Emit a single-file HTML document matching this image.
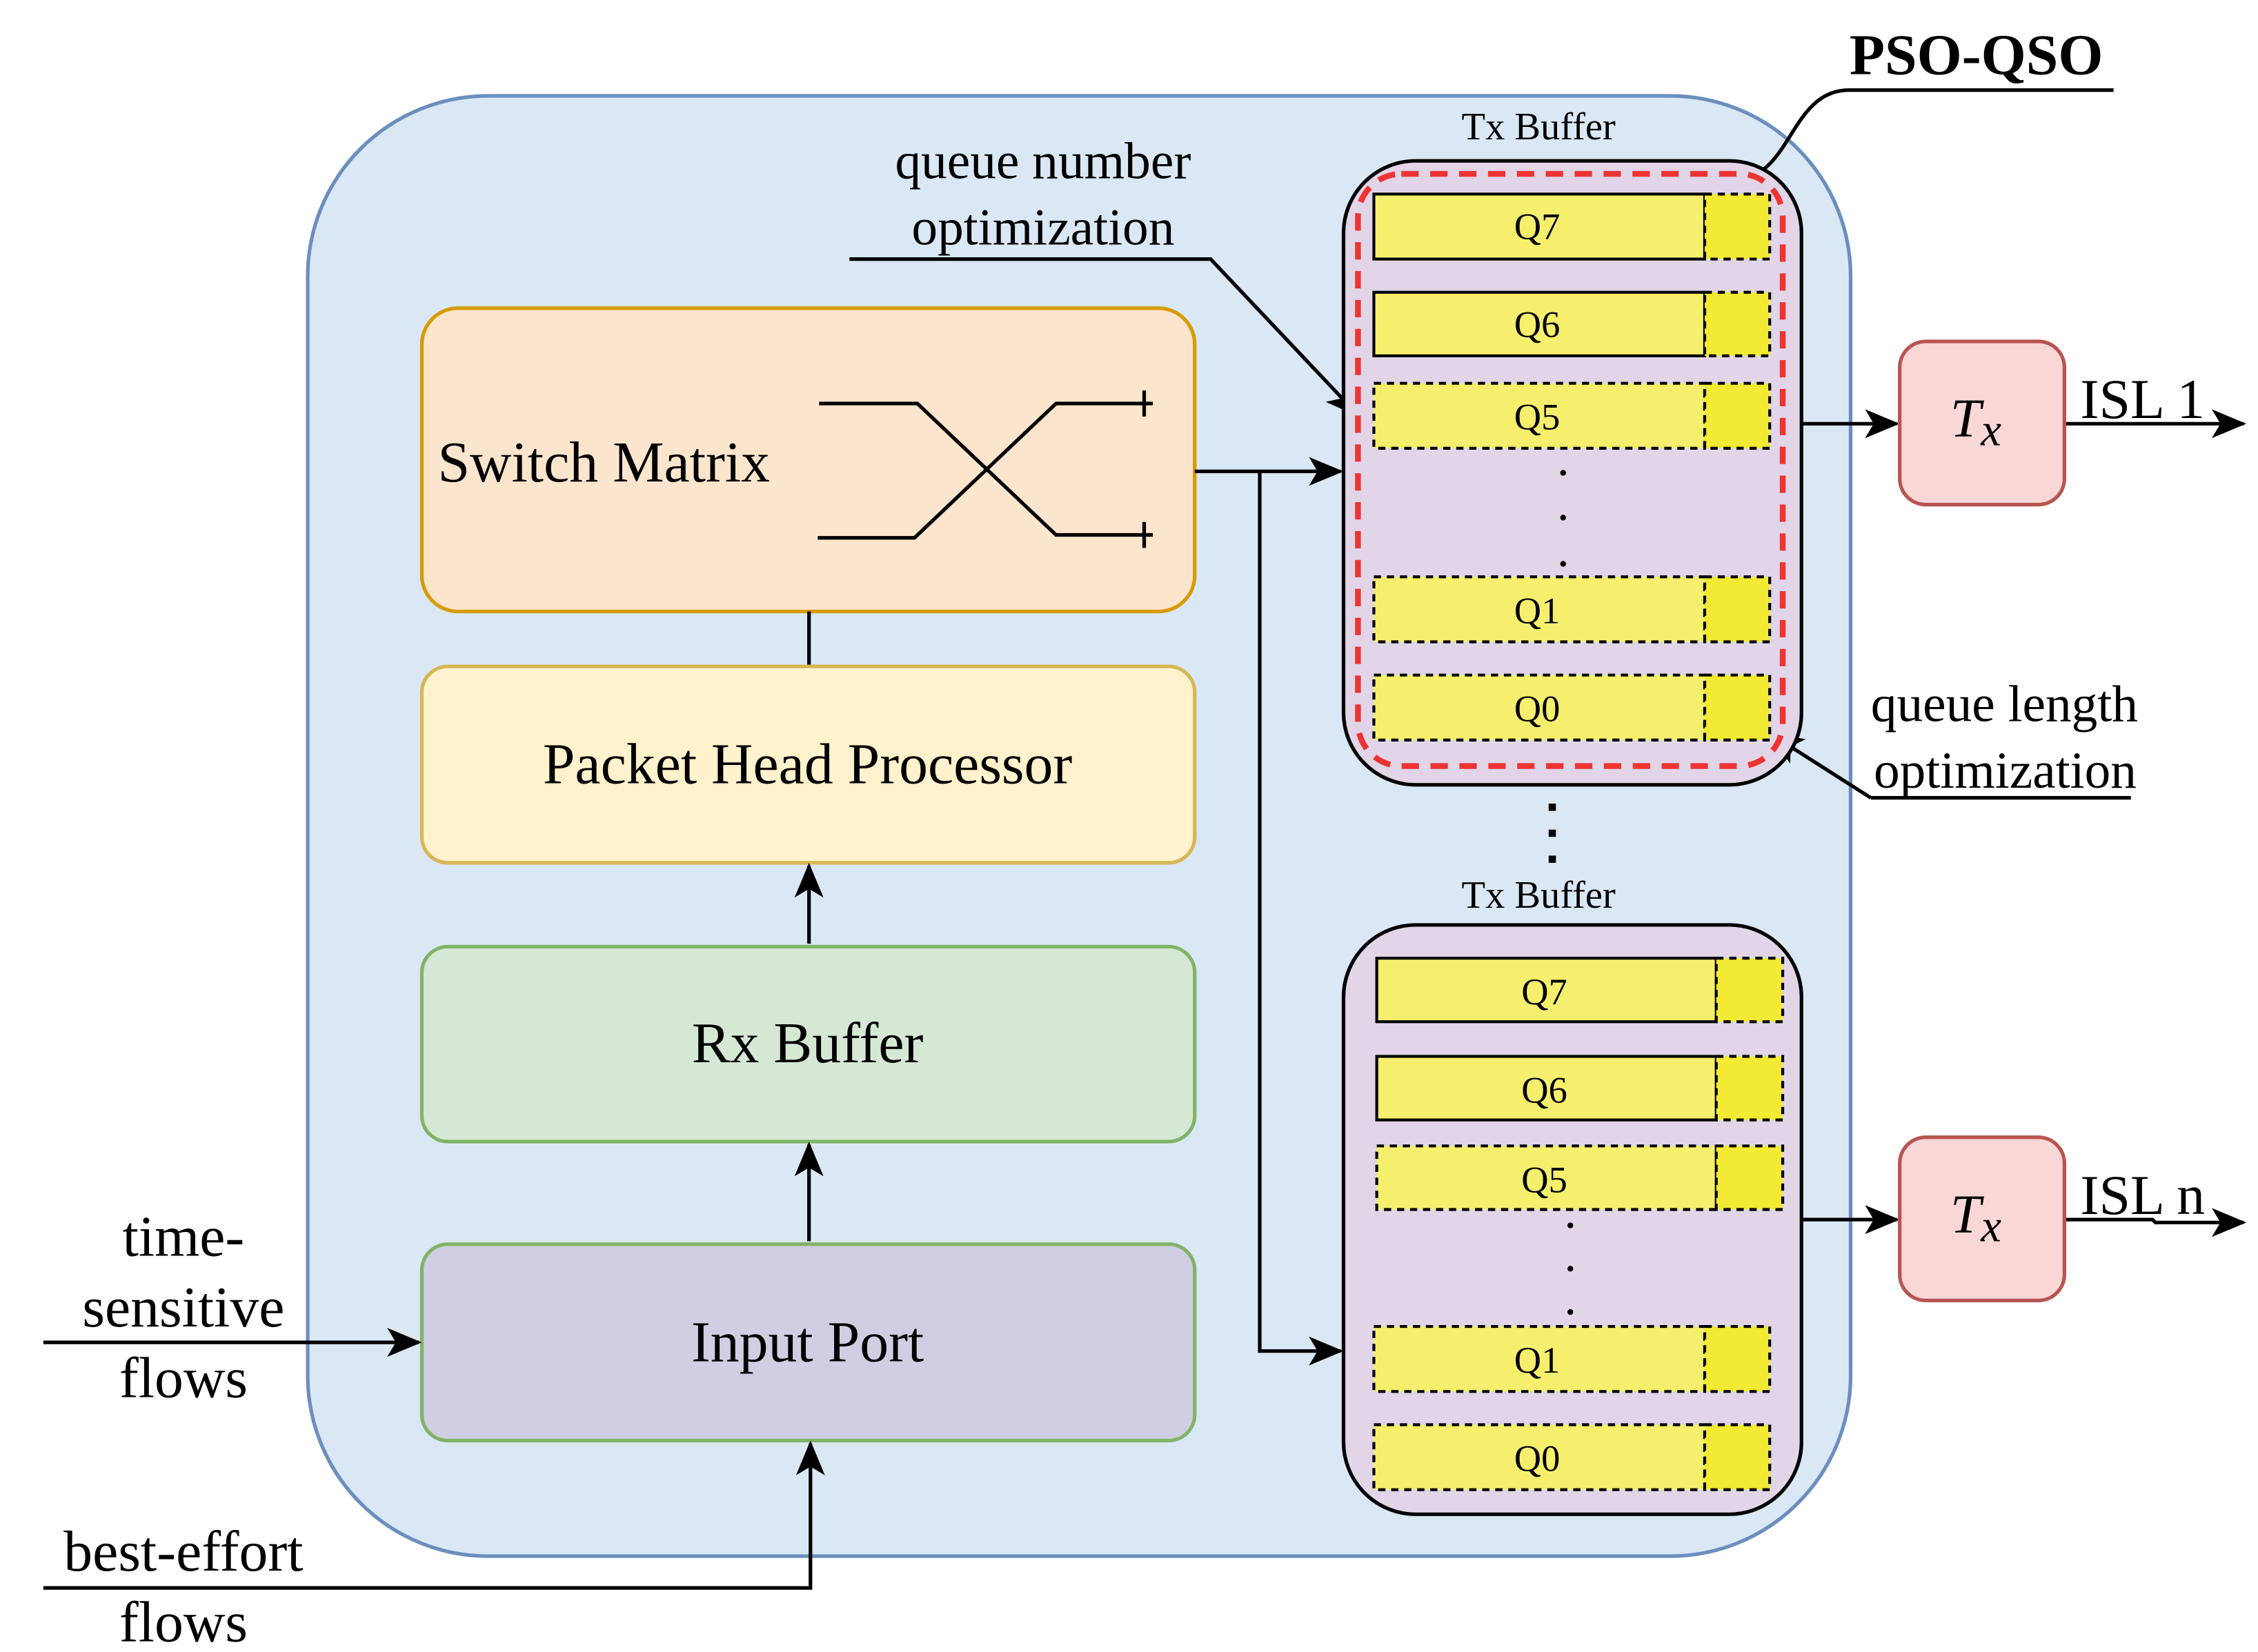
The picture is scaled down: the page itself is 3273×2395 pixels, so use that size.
<!DOCTYPE html>
<html><head><meta charset="utf-8"><style>html,body{margin:0;padding:0;background:#fff}svg{display:block}</style></head><body>
<svg width="3273" height="2395" viewBox="0 0 1563 1143" xmlns="http://www.w3.org/2000/svg" font-family="'Liberation Serif', serif">
<defs>
<marker id="b" markerWidth="24" markerHeight="20" refX="22" refY="10" orient="auto" markerUnits="userSpaceOnUse" viewBox="0 0 24 20"><path d="M0,0 L24,10 L0,20 L6,10 Z" fill="#000"/></marker>
</defs>
<rect x="213" y="66" width="1068" height="1011" rx="125" fill="#dae8f5" stroke="#6c8ebf" stroke-width="2.5"/>
<rect x="292" y="213" width="535" height="210" rx="25" fill="#fce5cd" stroke="#d79b00" stroke-width="2.5"/>
<text x="303" y="333" font-size="40">Switch Matrix</text>
<g stroke="#000" stroke-width="2.5" fill="none">
<path d="M567,279 H635 L731,370 H798"/><path d="M566,372 H633 L731,279 H798"/>
<path d="M792,270 V288 M792,361 V379"/>
<path d="M560,423 V461"/>
</g>
<rect x="292" y="461" width="535" height="136" rx="18" fill="#fff2cc" stroke="#d6b656" stroke-width="2.5"/>
<text x="559" y="542" font-size="40" text-anchor="middle">Packet Head Processor</text>
<rect x="292" y="655" width="535" height="135" rx="18" fill="#d5e8d4" stroke="#82b366" stroke-width="2.5"/>
<text x="559" y="735" font-size="40" text-anchor="middle">Rx Buffer</text>
<rect x="292" y="861" width="535" height="136" rx="18" fill="#d0cee2" stroke="#82b366" stroke-width="2.5"/>
<text x="559" y="942" font-size="40" text-anchor="middle">Input Port</text>
<g stroke="#000" stroke-width="2.5" fill="none" marker-end="url(#b)">
<path d="M560,653 V599"/><path d="M560,859 V792"/>
<path d="M30,929 H290"/>
<path d="M30,1099 H561 V999"/>
<path d="M827,326 H928"/>
<path d="M872,326 V935 H928"/>
<path d="M1247,293 H1313"/><path d="M1429,293 H1553"/>
<path d="M1247,844 H1313"/><path d="M1429,844 H1490 L1492,846 H1553"/>
<path d="M588,179 H838 L940,287"/>
<path d="M1295,552 L1226,508"/>
</g>
<path d="M1295,552 H1475" stroke="#000" stroke-width="2.5"/>
<text font-size="40" text-anchor="middle"><tspan x="127" y="869">time-</tspan><tspan x="127" y="918">sensitive</tspan><tspan x="127" y="967">flows</tspan></text>
<text font-size="40" text-anchor="middle"><tspan x="127" y="1087">best-effort</tspan><tspan x="127" y="1136">flows</tspan></text>
<text font-size="36" text-anchor="middle"><tspan x="722" y="123">queue number</tspan><tspan x="722" y="169">optimization</tspan></text>
<text font-size="36"><tspan x="1295" y="499">queue length</tspan><tspan x="1297" y="545">optimization</tspan></text>
<text x="1368" y="51" font-size="40" font-weight="bold" text-anchor="middle">PSO-QSO</text>
<path d="M1280,62 H1463 M1280,62 C1240,62 1240,120 1205,123" stroke="#000" stroke-width="2.5" fill="none"/>
<text x="1065" y="96" font-size="27" text-anchor="middle">Tx Buffer</text>
<rect x="930" y="111" width="317" height="432" rx="50" fill="#e1d5e7" stroke="#000" stroke-width="2.5"/>
<g stroke="#000" stroke-width="2">
<rect x="951" y="134" width="229" height="45" fill="#f5ef6d"/><rect x="1180" y="134" width="45" height="45" fill="#f2ea33" stroke-dasharray="5,4"/>
<rect x="951" y="202" width="229" height="44" fill="#f5ef6d"/><rect x="1180" y="202" width="45" height="44" fill="#f2ea33" stroke-dasharray="5,4"/>
<rect x="951" y="265" width="229" height="45" fill="#f5ef6d" stroke-dasharray="5,4"/><rect x="1180" y="265" width="45" height="45" fill="#f2ea33" stroke-dasharray="5,4"/>
<rect x="951" y="399" width="229" height="45" fill="#f5ef6d" stroke-dasharray="5,4"/><rect x="1180" y="399" width="45" height="45" fill="#f2ea33" stroke-dasharray="5,4"/>
<rect x="951" y="467" width="229" height="45" fill="#f5ef6d" stroke-dasharray="5,4"/><rect x="1180" y="467" width="45" height="45" fill="#f2ea33" stroke-dasharray="5,4"/>
</g>
<g font-size="26" text-anchor="middle"><text x="1064" y="165">Q7</text><text x="1064" y="233">Q6</text><text x="1064" y="297">Q5</text><text x="1064" y="431">Q1</text><text x="1064" y="499">Q0</text></g>
<g fill="#000"><circle cx="1082" cy="327" r="2"/><circle cx="1082" cy="358" r="2"/><circle cx="1082" cy="390" r="2"/>
<rect x="1072" y="556" width="5" height="5"/><rect x="1072" y="574" width="5" height="5"/><rect x="1072" y="592" width="5" height="5"/></g>
<rect x="940" y="120" width="294" height="410" rx="30" fill="none" stroke="#ee3333" stroke-width="4" stroke-dasharray="12,8"/>
<text x="1065" y="628" font-size="27" text-anchor="middle">Tx Buffer</text>
<rect x="930" y="640" width="317" height="408" rx="50" fill="#e1d5e7" stroke="#000" stroke-width="2.5"/>
<g stroke="#000" stroke-width="2">
<rect x="953" y="663" width="235" height="44" fill="#f5ef6d"/><rect x="1188" y="663" width="46" height="44" fill="#f2ea33" stroke-dasharray="5,4"/>
<rect x="953" y="731" width="235" height="44" fill="#f5ef6d"/><rect x="1188" y="731" width="46" height="44" fill="#f2ea33" stroke-dasharray="5,4"/>
<rect x="953" y="793" width="235" height="44" fill="#f5ef6d" stroke-dasharray="5,4"/><rect x="1188" y="793" width="46" height="44" fill="#f2ea33" stroke-dasharray="5,4"/>
<rect x="951" y="918" width="229" height="45" fill="#f5ef6d" stroke-dasharray="5,4"/><rect x="1180" y="918" width="45" height="45" fill="#f2ea33" stroke-dasharray="5,4"/>
<rect x="951" y="986" width="229" height="45" fill="#f5ef6d" stroke-dasharray="5,4"/><rect x="1180" y="986" width="45" height="45" fill="#f2ea33" stroke-dasharray="5,4"/>
</g>
<g font-size="26" text-anchor="middle"><text x="1069" y="695">Q7</text><text x="1069" y="763">Q6</text><text x="1069" y="825">Q5</text><text x="1064" y="950">Q1</text><text x="1064" y="1018">Q0</text></g>
<g fill="#000"><circle cx="1087" cy="848" r="2"/><circle cx="1087" cy="878" r="2"/><circle cx="1087" cy="908" r="2"/></g>
<rect x="1315" y="236" width="114" height="113" rx="18" fill="#f8d7d6" stroke="#b85450" stroke-width="2.5"/>
<text x="1350" y="302" font-size="38" font-style="italic">T<tspan font-size="32" dy="6">x</tspan></text>
<rect x="1315" y="787" width="114" height="113" rx="18" fill="#f8d7d6" stroke="#b85450" stroke-width="2.5"/>
<text x="1350" y="853" font-size="38" font-style="italic">T<tspan font-size="32" dy="6">x</tspan></text>
<text x="1440" y="289" font-size="39">ISL 1</text>
<text x="1440" y="840" font-size="39">ISL n</text>
</svg>
</body></html>
